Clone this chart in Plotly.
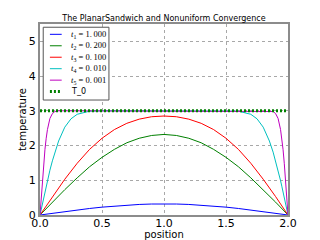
import plotly.graph_objects as go

# ---- data ----
x_coarse = [0.0, 0.1, 0.2, 0.3, 0.4, 0.5, 0.6, 0.7, 0.8, 0.9, 1.0,
            1.1, 1.2, 1.3, 1.4, 1.5, 1.6, 1.7, 1.8, 1.9, 2.0]
T_t1 = [0.0, 0.050, 0.099, 0.145, 0.188, 0.226, 0.259, 0.285, 0.304, 0.316, 0.32,
        0.316, 0.304, 0.285, 0.259, 0.226, 0.188, 0.145, 0.099, 0.050, 0.0]
T_t2 = [0.0, 0.37, 0.73, 1.07, 1.39, 1.66, 1.89, 2.08, 2.21, 2.29, 2.32,
        2.29, 2.21, 2.08, 1.89, 1.66, 1.39, 1.07, 0.73, 0.37, 0.0]
T_t3 = [0.0, 0.53, 1.03, 1.49, 1.89, 2.21, 2.46, 2.64, 2.76, 2.83, 2.85,
        2.83, 2.76, 2.64, 2.46, 2.21, 1.89, 1.49, 1.03, 0.53, 0.0]

x_fine = [0.0, 0.01, 0.02, 0.03, 0.04, 0.05, 0.06, 0.08, 0.1, 0.12, 0.15, 0.2, 0.25, 0.3, 0.4, 0.5,
          1.0,
          1.5, 1.6, 1.7, 1.75, 1.8, 1.85, 1.88, 1.9, 1.92, 1.94, 1.95, 1.96, 1.97, 1.98, 1.99, 2.0]
T_t4 = [0.0, 0.17, 0.34, 0.50, 0.67, 0.83, 0.99, 1.29, 1.56, 1.81, 2.13, 2.53, 2.77, 2.90, 2.99, 3.0,
        3.0,
        3.0, 2.99, 2.90, 2.77, 2.53, 2.13, 1.81, 1.56, 1.29, 0.99, 0.83, 0.67, 0.50, 0.34, 0.17, 0.0]
T_t5 = [0.0, 0.53, 1.04, 1.49, 1.89, 2.21, 2.46, 2.78, 2.92, 2.98, 3.0, 3.0, 3.0, 3.0, 3.0, 3.0,
        3.0,
        3.0, 3.0, 3.0, 3.0, 3.0, 3.0, 2.98, 2.92, 2.78, 2.46, 2.21, 1.89, 1.49, 1.04, 0.53, 0.0]

x_T0 = [0.0, 2.0]
T_0 = [3.0, 3.0]

labels = [
    "<i>t</i><sub>1</sub> = 1.\u2009000",
    "<i>t</i><sub>2</sub> = 0.\u2009200",
    "<i>t</i><sub>3</sub> = 0.\u2009100",
    "<i>t</i><sub>4</sub> = 0.\u2009010",
    "<i>t</i><sub>5</sub> = 0.\u2009001",
    "T_0",
]
colors = ["#0000ff", "#008000", "#ff0000", "#00bfbf", "#bf00bf", "#008000"]

series = [
    (x_coarse, T_t1), (x_coarse, T_t2), (x_coarse, T_t3),
    (x_fine, T_t4), (x_fine, T_t5), (x_T0, T_0),
]

fig = go.Figure()
for (xs, ys), lab, col in zip(series, labels, colors):
    if lab == "T_0":
        line = dict(color=col, width=3, dash="2px,2px")
    else:
        line = dict(color=col, width=1)
    fig.add_trace(go.Scatter(x=xs, y=ys, mode="lines", line=line, name=lab,
                             showlegend=False, hoverinfo="skip"))

# ---- manual compact legend (matplotlib-like) ----
shapes = [dict(type="rect", xref="x domain", yref="y domain",
               x0=0.013, x1=0.278, y0=0.602, y1=0.983,
               line=dict(color="#555555", width=1), fillcolor="white", layer="above")]
annotations = []
row_h = 0.060
y_first = 0.946
for i, (lab, col) in enumerate(zip(labels, colors)):
    yy = y_first - i * row_h
    if lab == "T_0":
        ln = dict(color=col, width=3, dash="2px,2px")
        fnt = dict(family="DejaVu Sans", size=8, color="black")
    else:
        ln = dict(color=col, width=1)
        fnt = dict(family="Liberation Serif", size=8.5, color="black")
    shapes.append(dict(type="line", xref="x domain", yref="y domain",
                       x0=0.040, x1=0.0875, y0=yy, y1=yy, line=ln, layer="above"))
    annotations.append(dict(xref="x domain", yref="y domain", x=0.115, y=yy,
                            text=lab, showarrow=False, xanchor="left", yanchor="middle",
                            font=fnt))

fig.update_layout(
    width=320, height=240,
    margin=dict(l=40, r=32, t=24, b=25, autoexpand=False),
    paper_bgcolor="white", plot_bgcolor="white",
    font=dict(family="DejaVu Sans", color="black"),
    title=dict(text="The PlanarSandwich and Nonuniform Convergence",
               x=0.5125, xanchor="center", y=0.925, yanchor="middle",
               font=dict(size=8, family="DejaVu Sans", color="black")),
    shapes=shapes, annotations=annotations,
)
fig.update_xaxes(range=[0, 2], tickvals=[0, 0.5, 1.0, 1.5, 2.0], tickformat=".1f",
                 tickfont=dict(size=11), showgrid=True, gridcolor="#a8a8a8", griddash="dot",
                 gridwidth=1, zeroline=False, showline=True, mirror=True,
                 linecolor="#8c8c8c", linewidth=2, ticks="", ticklen=0, automargin=False,
                 ticklabelstandoff=-3,
                 title=dict(text="position", font=dict(size=10), standoff=2))
fig.update_yaxes(range=[0, 5.5], tickvals=[0, 1, 2, 3, 4, 5],
                 tickfont=dict(size=11), showgrid=True, gridcolor="#a8a8a8", griddash="dot",
                 gridwidth=1, zeroline=False, showline=True, mirror=True,
                 linecolor="#8c8c8c", linewidth=2, ticks="", ticklen=0, automargin=False,
                 ticklabelstandoff=0,
                 title=dict(text="temperature", font=dict(size=10), standoff=0))

fig.write_html("out.html", config={"displayModeBar": False},
               post_script="document.body.style.margin='0';")
